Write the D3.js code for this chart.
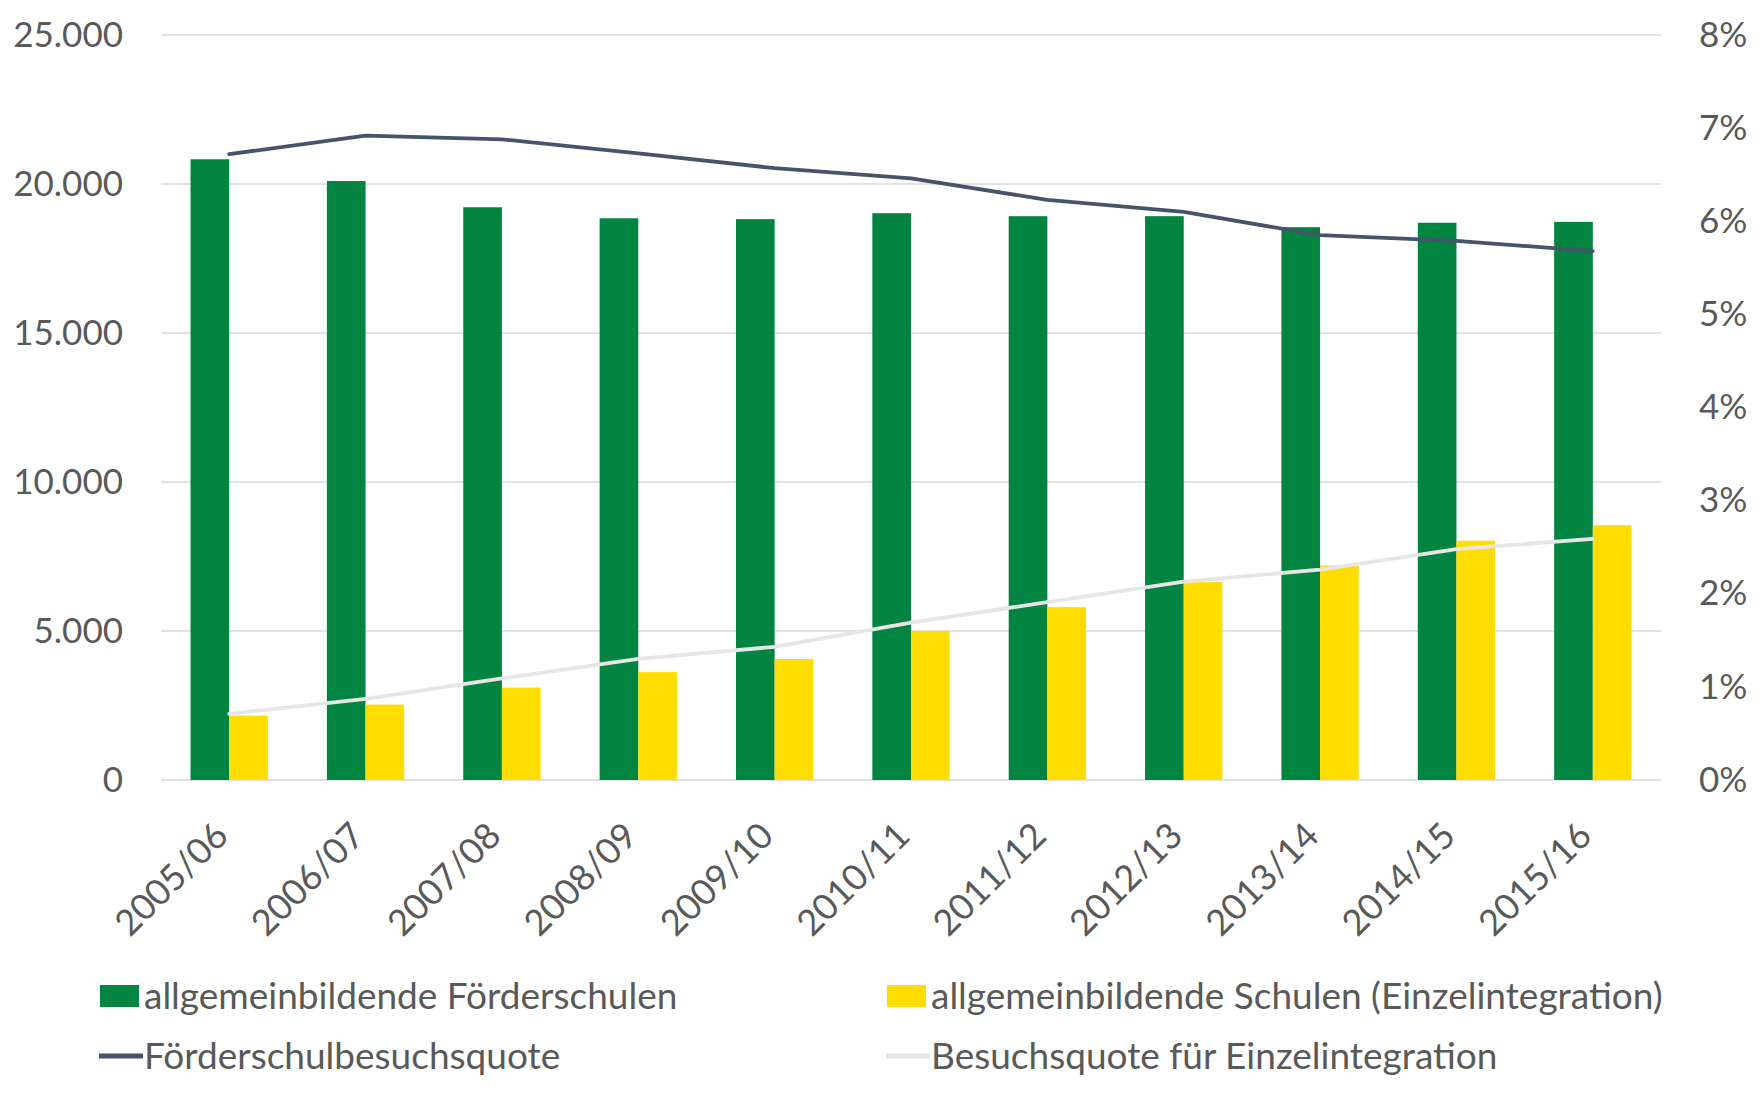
<!DOCTYPE html>
<html>
<head>
<meta charset="utf-8">
<script src="https://cdn.jsdelivr.net/npm/d3@7"></script>
<style>
  html, body { margin: 0; padding: 0; background: #fff; }
  svg { display: block; }
  text { font-family: Lato, "Open Sans", sans-serif; fill: #595959; }
</style>
</head>
<body>
<svg id="chart" width="1760" height="1096"></svg>
<script>
// ---- data ----
const categories = ["2005/06","2006/07","2007/08","2008/09","2009/10","2010/11","2011/12","2012/13","2013/14","2014/15","2015/16"];
const foerderschulen = [20830, 20100, 19220, 18850, 18820, 19020, 18920, 18920, 18550, 18700, 18730];
const einzelintegration = [2160, 2530, 3100, 3620, 4060, 5000, 5800, 6640, 7200, 8030, 8550];
const foerderquote = [0.0672, 0.0692, 0.0688, 0.0673, 0.0657, 0.0646, 0.0623, 0.0610, 0.0585, 0.0579, 0.0568];
const integrationsquote = [0.0071, 0.0087, 0.0109, 0.0130, 0.0143, 0.0169, 0.0191, 0.0213, 0.0226, 0.0248, 0.0259];
const leftTicks = [0, 5000, 10000, 15000, 20000, 25000];
const rightTicks = [0, 0.01, 0.02, 0.03, 0.04, 0.05, 0.06, 0.07, 0.08];
const barSeries = ["allgemeinbildende Förderschulen", "allgemeinbildende Schulen (Einzelintegration)"];
const lineSeries = ["Förderschulbesuchsquote", "Besuchsquote für Einzelintegration"];

const colors = {
  green: "#00843F", yellow: "#FFDD00", dark: "#44546A", light: "#E7E6E6",
  grid: "#D9D9D9", text: "#595959"
};

const svg = d3.select("#chart");
const plot = { left: 161, right: 1661, top: 35, bottom: 780 };

const x0 = d3.scaleBand().domain(categories).range([plot.left, plot.right])
  .paddingInner(0.433).paddingOuter(0.2165);
const x1 = d3.scaleBand().domain([0, 1]).range([0, x0.bandwidth()]);
const yL = d3.scaleLinear().domain([0, 25000]).range([plot.bottom, plot.top]);
const yR = d3.scaleLinear().domain([0, 0.08]).range([plot.bottom, plot.top]);

const fmtL = d => d3.format(",")(d).replace(/,/g, ".");
const fmtR = d3.format(".0%");

// gridlines
svg.append("g").selectAll("line").data(leftTicks).join("line")
  .attr("x1", plot.left).attr("x2", plot.right)
  .attr("y1", d => yL(d)).attr("y2", d => yL(d))
  .attr("stroke", colors.grid).attr("stroke-width", 1.5);

// left axis
const axL = svg.append("g").attr("transform", `translate(${plot.left},0)`)
  .call(d3.axisLeft(yL).tickValues(leftTicks).tickFormat(fmtL).tickSize(0).tickPadding(38));
axL.select(".domain").remove();
axL.selectAll("text").attr("font-size", 35).attr("font-family", "Lato").attr("fill", colors.text);

// right axis
const axR = svg.append("g").attr("transform", `translate(${plot.right},0)`)
  .call(d3.axisRight(yR).tickValues(rightTicks).tickFormat(fmtR).tickSize(0).tickPadding(38));
axR.select(".domain").remove();
axR.selectAll("text").attr("font-size", 35).attr("font-family", "Lato").attr("fill", colors.text);

// bars
const barData = categories.map((c, i) => ({ c, vals: [foerderschulen[i], einzelintegration[i]] }));
const barColors = [colors.green, colors.yellow];
svg.append("g").selectAll("g").data(barData).join("g")
  .attr("transform", d => `translate(${x0(d.c)},0)`)
  .selectAll("rect").data(d => d.vals.map((v, k) => ({ v, k }))).join("rect")
  .attr("x", d => x1(d.k)).attr("width", x1.bandwidth())
  .attr("y", d => yL(d.v)).attr("height", d => yL(0) - yL(d.v))
  .attr("fill", d => barColors[d.k]);

// lines
const cx = c => x0(c) + x0.bandwidth() / 2;
const line = d3.line().x(d => cx(d.c)).y(d => yR(d.v));
const lineData = [
  { vals: foerderquote, color: colors.dark },
  { vals: integrationsquote, color: colors.light }
];
svg.append("g").selectAll("path").data(lineData).join("path")
  .attr("d", d => line(categories.map((c, i) => ({ c, v: d.vals[i] }))))
  .attr("fill", "none").attr("stroke", d => d.color)
  .attr("stroke-width", 3.8).attr("stroke-linejoin", "round").attr("stroke-linecap", "round");

// x axis labels
const axX = svg.append("g").attr("transform", `translate(0,${plot.bottom})`)
  .call(d3.axisBottom(x0).tickSize(0).tickFormat(d => d));
axX.select(".domain").remove();
axX.selectAll(".tick").attr("transform", d => `translate(${cx(d)},0)`);
axX.selectAll("text")
  .attr("font-size", 36).attr("font-family", "Lato").attr("fill", colors.text)
  .attr("text-anchor", "end").attr("dy", null).attr("y", null)
  .attr("transform", "translate(1,58) rotate(-45)");

// legend
const legendItems = [
  { label: barSeries[0], type: "rect", color: colors.green, x: 100, y: 996 },
  { label: barSeries[1], type: "rect", color: colors.yellow, x: 887, y: 996 },
  { label: lineSeries[0], type: "line", color: colors.dark, x: 100, y: 1056 },
  { label: lineSeries[1], type: "line", color: colors.light, x: 887, y: 1056 }
];
const lg = svg.append("g").selectAll("g").data(legendItems).join("g")
  .attr("transform", d => `translate(${d.x},${d.y})`);
lg.filter(d => d.type === "rect").append("rect")
  .attr("x", 0).attr("y", -11).attr("width", 39).attr("height", 22).attr("fill", d => d.color);
lg.filter(d => d.type === "line").append("line")
  .attr("x1", -1).attr("x2", 43).attr("y1", 0).attr("y2", 0)
  .attr("stroke", d => d.color).attr("stroke-width", 5);
lg.append("text").attr("x", 44).attr("y", 0).attr("dy", "0.36em")
  .attr("font-size", 37).attr("fill", colors.text).text(d => d.label);
</script>
</body>
</html>
